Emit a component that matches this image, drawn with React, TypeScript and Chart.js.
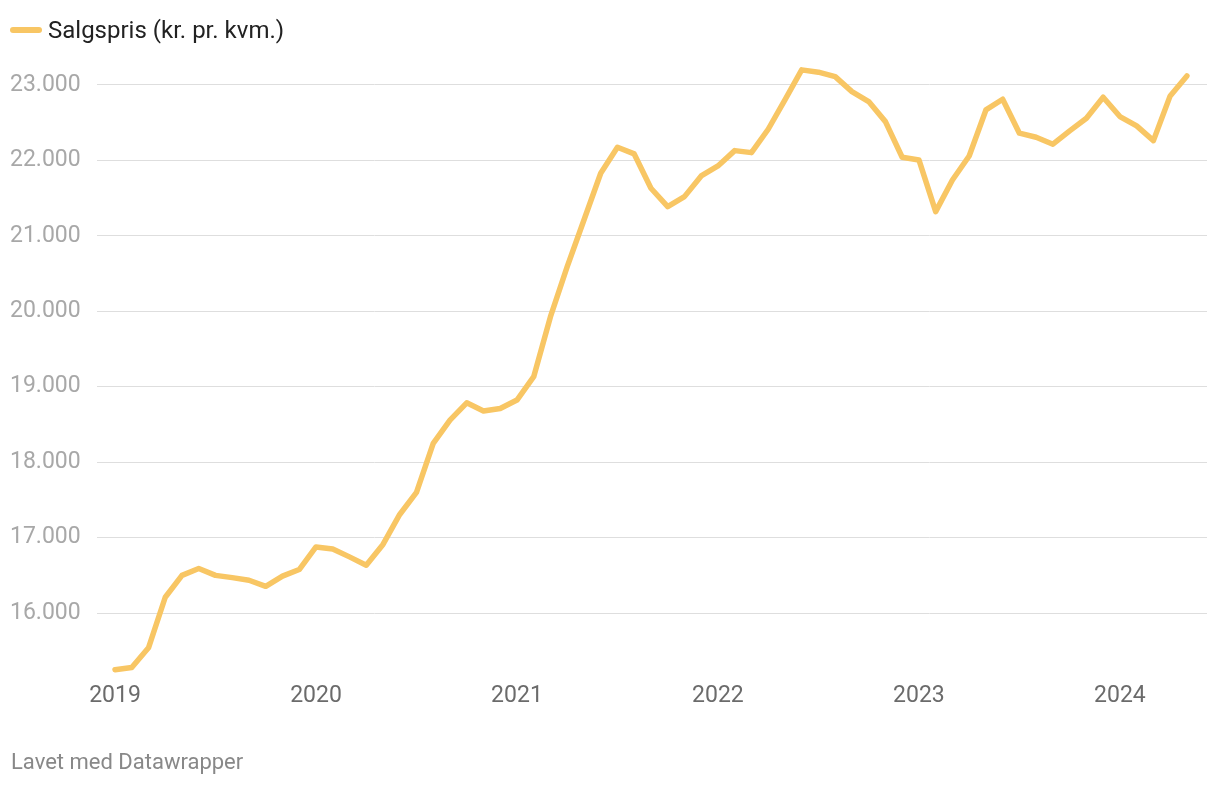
import React, { useEffect, useRef } from "react";
import { Chart, registerables } from "chart.js";
Chart.register(...registerables);

const months: string[] = [
  "2019-01","2019-02","2019-03","2019-04","2019-05","2019-06","2019-07","2019-08","2019-09","2019-10","2019-11","2019-12",
  "2020-01","2020-02","2020-03","2020-04","2020-05","2020-06","2020-07","2020-08","2020-09","2020-10","2020-11","2020-12",
  "2021-01","2021-02","2021-03","2021-04","2021-05","2021-06","2021-07","2021-08","2021-09","2021-10","2021-11","2021-12",
  "2022-01","2022-02","2022-03","2022-04","2022-05","2022-06","2022-07","2022-08","2022-09","2022-10","2022-11","2022-12",
  "2023-01","2023-02","2023-03","2023-04","2023-05","2023-06","2023-07","2023-08","2023-09","2023-10","2023-11","2023-12",
  "2024-01","2024-02","2024-03","2024-04","2024-05",
];

const salgspris: number[] = [
  15250, 15280, 15540, 16210, 16500, 16590, 16500, 16470, 16435, 16355, 16490, 16577,
  16877, 16850, 16745, 16635, 16910, 17307, 17600, 18248, 18557, 18787, 18677, 18712,
  18823, 19133, 19928, 20591, 21210, 21829, 22174, 22085, 21630, 21386, 21519, 21793,
  21926, 22129, 22102, 22412, 22801, 23199, 23168, 23110, 22911, 22779, 22513, 22041,
  22005, 21320, 21740, 22058, 22668, 22810, 22360, 22306, 22214, 22390, 22558, 22837,
  22580, 22456, 22261, 22854, 23119,
];

const yearTicks: number[] = [2019, 2020, 2021, 2022, 2023, 2024];
const yTicks: number[] = [16000, 17000, 18000, 19000, 20000, 21000, 22000, 23000];

const seriesLabel = "Salgspris (kr. pr. kvm.)";
const footer = "Lavet med Datawrapper";
const lineColor = "#f8c664";

const monthIndex = (m: string) => {
  const [y, mo] = m.split("-").map(Number);
  return (y - 2019) * 12 + (mo - 1);
};

const fmt = (v: number) => String(Math.round(v)).replace(/\B(?=(\d{3})+(?!\d))/g, ".");

export default function App() {
  const ref = useRef<HTMLCanvasElement>(null);
  useEffect(() => {
    if (!ref.current) return;
    const chart = new Chart(ref.current, {
      type: "line",
      data: {
        datasets: [
          {
            label: seriesLabel,
            data: months.map((m, i) => ({ x: monthIndex(m), y: salgspris[i] })),
            borderColor: lineColor,
            backgroundColor: lineColor,
            borderWidth: 5.5,
            pointRadius: 0,
            tension: 0,
            borderCapStyle: "round",
            borderJoinStyle: "round",
          },
        ],
      },
      options: {
        animation: false,
        responsive: false,
        maintainAspectRatio: false,
        layout: { padding: { left: 10, right: 13, top: 63, bottom: 0 } },
        plugins: { legend: { display: false }, tooltip: { enabled: false } },
        scales: {
          x: {
            type: "linear",
            min: -1.075,
            max: 65.2,
            border: { display: false },
            grid: { display: false, drawTicks: false },
            afterBuildTicks: (s: any) => {
              s.ticks = yearTicks.map((y) => ({ value: (y - 2019) * 12 }));
            },
            afterFit: (s: any) => {
              s.height = 105;
            },
            ticks: {
              autoSkip: false,
              maxRotation: 0,
              padding: 1,
              color: "#6b6b6b",
              font: { family: "Roboto", size: 23 },
              callback: (v: any) => String(2019 + Math.round(Number(v) / 12)),
            },
          },
          y: {
            min: 15100,
            max: 23290,
            border: { display: false },
            grid: { color: "#dedede", lineWidth: 1, drawTicks: false },
            afterBuildTicks: (s: any) => {
              s.ticks = yTicks.map((v) => ({ value: v }));
            },
            afterFit: (s: any) => {
              s.width = 87;
            },
            ticks: {
              crossAlign: "far",
              padding: 0,
              color: "#a8a8a8",
              font: { family: "Roboto", size: 23 },
              callback: (v: any) => fmt(Number(v)),
            },
          },
        },
      },
    });
    return () => chart.destroy();
  }, []);

  return (
    <div style={{ position: "absolute", left: 0, top: 0, width: 1220, height: 786, background: "#fff", fontFamily: "Roboto" }}>
      <canvas ref={ref} width={1220} height={786} style={{ position: "absolute", left: 0, top: 0 }} />
      <div style={{ position: "absolute", left: 10, top: 16, height: 28, display: "flex", alignItems: "center" }}>
        <span style={{ display: "inline-block", width: 32, height: 6, borderRadius: 3, background: lineColor, marginRight: 6 }} />
        <span style={{ fontSize: 24, color: "#222", lineHeight: "28px" }}>{seriesLabel}</span>
      </div>
      <div style={{ position: "absolute", left: 11, top: 748, fontSize: 22, color: "#888", lineHeight: "28px" }}>{footer}</div>
    </div>
  );
}
